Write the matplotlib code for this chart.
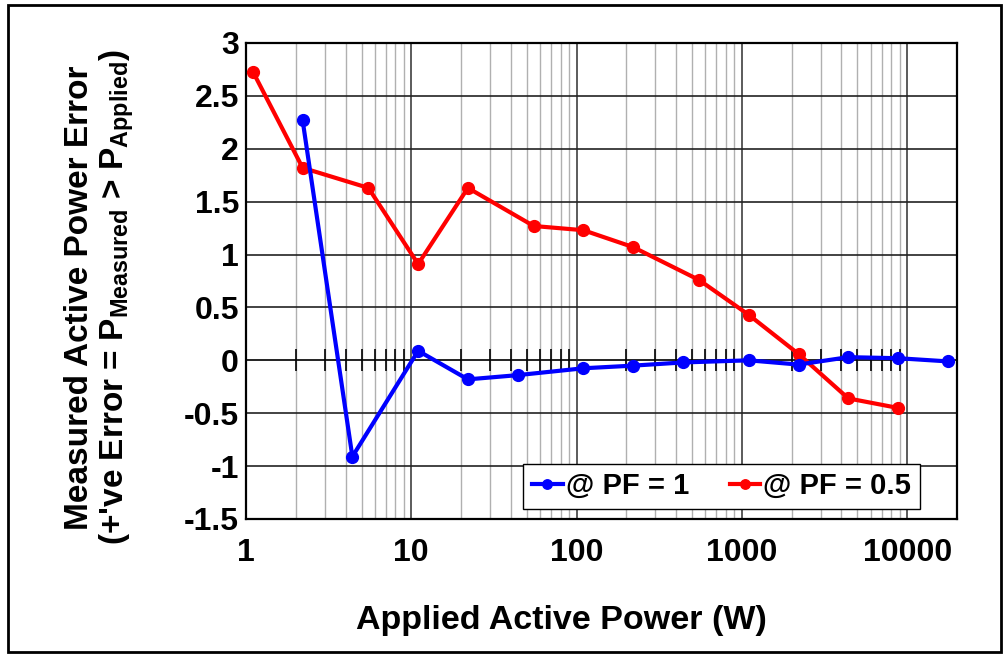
import numpy as np
import matplotlib
matplotlib.use("Agg")
import matplotlib.pyplot as plt
from matplotlib.ticker import LogLocator, FixedLocator, NullFormatter
from matplotlib.patches import Rectangle

plt.rcParams['font.family'] = ['Liberation Sans', 'DejaVu Sans']
plt.rcParams['font.weight'] = 'bold'
plt.rcParams['mathtext.fontset'] = 'custom'
plt.rcParams['mathtext.rm'] = 'Liberation Sans:bold'
plt.rcParams['mathtext.bf'] = 'Liberation Sans:bold'

# applied power (W) and measured error (%)
pf1_power = [2.2, 4.4, 11, 22, 44, 110, 220, 440, 1100, 2200, 4400, 8800, 17600]
pf1_error = [2.27, -0.91, 0.09, -0.18, -0.14, -0.075, -0.05, -0.02, 0.0, -0.04, 0.03, 0.02, -0.01]

pf05_power = [1.1, 2.2, 5.5, 11, 22, 55, 110, 220, 550, 1100, 2200, 4400, 8800]
pf05_error = [2.73, 1.82, 1.63, 0.91, 1.63, 1.27, 1.23, 1.07, 0.76, 0.43, 0.06, -0.36, -0.45]

x_ticks = [1, 10, 100, 1000, 10000]
x_tick_labels = ['1', '10', '100', '1000', '10000']
y_ticks = [-1.5, -1, -0.5, 0, 0.5, 1, 1.5, 2, 2.5, 3]
y_tick_labels = ['-1.5', '-1', '-0.5', '0', '0.5', '1', '1.5', '2', '2.5', '3']

fig = plt.figure(figsize=(10.08, 6.54), dpi=100)
ax = fig.add_axes([246 / 1008, 1 - 519 / 654, 711 / 1008, 476 / 654])

ax.set_xscale('log')
ax.set_xlim(1, 20000)
ax.set_ylim(-1.5, 3)

ax.xaxis.set_major_locator(FixedLocator(x_ticks))
ax.set_xticklabels(x_tick_labels)
ax.xaxis.set_minor_locator(LogLocator(base=10, subs=np.arange(2, 10)))
ax.xaxis.set_minor_formatter(NullFormatter())
ax.set_yticks(y_ticks)
ax.set_yticklabels(y_tick_labels)

ax.grid(which='major', axis='x', color='#404040', lw=1.2, zorder=0)
ax.grid(which='minor', axis='x', color='#b0b0b0', lw=1.0, zorder=0)
ax.grid(which='major', axis='y', color='#222222', lw=1.2, zorder=0)
ax.tick_params(which='both', length=0)
ax.tick_params(axis='x', labelsize=23, pad=14)
ax.tick_params(axis='y', labelsize=23, pad=5)
for lab in ax.get_xticklabels() + ax.get_yticklabels():
    lab.set_fontweight('bold')
for sp in ax.spines.values():
    sp.set_color('black')
    sp.set_linewidth(1.6)

# tick marks along the zero line
minor = [v for v in LogLocator(base=10, subs=np.arange(2, 10)).tick_values(1, 20000) if 1 < v < 20000]
ax.plot(minor, np.zeros(len(minor)), ls='none', marker='|', color='black', ms=16, mew=1.2, zorder=2)
ax.axhline(0, color='#444444', lw=1.4, zorder=1)

ax.plot(pf1_power, pf1_error, color='#0000ff', lw=3, marker='o', ms=8.5, label='@ PF = 1', zorder=4)
ax.plot(pf05_power, pf05_error, color='#ff0000', lw=3, marker='o', ms=8.5, label='@ PF = 0.5', zorder=3)

leg = ax.legend(loc='lower left', bbox_to_anchor=(0.39, 0.021, 0.558, 0.086), mode='expand',
                borderaxespad=0, ncol=2,
                fontsize=21, handlelength=1.05, handletextpad=0.1, columnspacing=0.9,
                borderpad=0.3, fancybox=False, framealpha=1, edgecolor='black', markerscale=0.8)
leg.get_frame().set_linewidth(1.0)
for t in leg.get_texts():
    t.set_fontweight('bold')

fig.text(561 / 1008, 1 - 620 / 654, 'Applied Active Power (W)', ha='center', va='center',
         fontsize=24.5, fontweight='bold')
fig.text(100 / 1008, 0.545,
         "Measured Active Power Error\n(+'ve Error = P$_{\\mathbf{Measured}}$ > P$_{\\mathbf{Applied}}$)",
         ha='center', va='center', rotation=90, fontsize=24, fontweight='bold', linespacing=1.05)

fig.add_artist(Rectangle((8 / 1008, 2 / 654), 993 / 1008, 647 / 654, transform=fig.transFigure,
                         fill=False, edgecolor='black', lw=2))

fig.savefig('out.png', dpi=100)
